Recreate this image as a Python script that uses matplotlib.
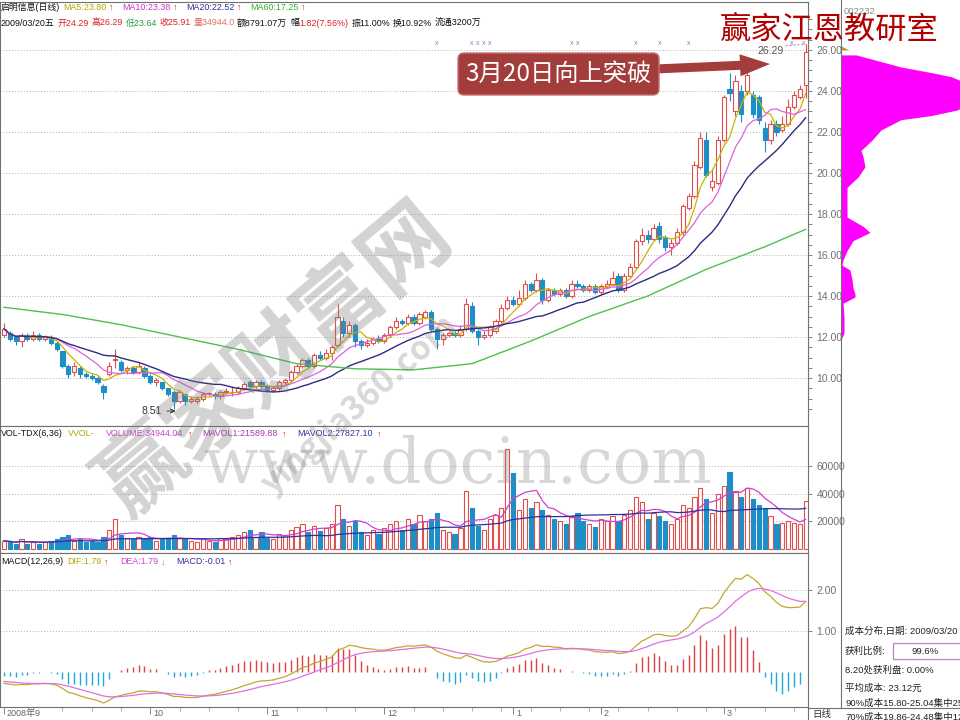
import numpy as np
import pandas as pd
import matplotlib
matplotlib.use("Agg")
import matplotlib.pyplot as plt
from matplotlib import font_manager
from matplotlib.patches import Rectangle, FancyBboxPatch, FancyArrow
from matplotlib.transforms import blended_transform_factory

plt.rcParams['font.family'] = ['Noto Sans CJK SC', 'DejaVu Sans']
installed = {f.name for f in font_manager.fontManager.ttflist}
NARROW = 'Liberation Sans Narrow' if 'Liberation Sans Narrow' in installed else 'Liberation Sans'
SMALL_FAM = [NARROW, 'Noto Sans CJK SC', 'DejaVu Sans']

# ---- daily bars, 2008/09 .. 2009/03/20 ----
opens = [
    12.1, 12.2, 12.0, 11.8, 12.1, 11.9, 12.1, 11.9, 12.0, 11.7,
    11.3, 10.6, 10.3, 10.5, 10.2, 10.1, 10.0, 9.6, 10.2, 10.9,
    10.8, 10.4, 10.5, 10.3, 10.5, 10.1, 9.8, 9.8, 9.5, 9.3,
    8.9, 9.2, 8.9, 8.9, 9.0, 9.2, 9.2, 9.1, 9.3, 9.3,
    9.3, 9.5, 9.8, 9.6, 9.8, 9.6, 9.4, 9.5, 9.8, 9.9,
    10.3, 10.6, 10.9, 10.6, 11.1, 11.0, 11.2, 11.6, 12.8, 12.2,
    12.6, 11.8, 11.6, 11.7, 11.9, 11.8, 12.1, 12.5, 12.8, 12.7,
    13.0, 12.7, 13.0, 13.2, 12.4, 11.9, 12.1, 12.2, 12.1, 12.4,
    13.5, 12.3, 12.0, 12.1, 12.3, 12.8, 13.4, 13.8, 13.6, 13.9,
    14.6, 14.3, 14.8, 13.8, 14.3, 14.1, 14.3, 14.0, 14.6, 14.5,
    14.3, 14.5, 14.2, 14.5, 14.6, 15.0, 14.3, 15.0, 15.4, 16.7,
    17.0, 16.8, 17.4, 16.9, 16.4, 16.6, 17.1, 18.3, 18.9, 20.3,
    21.6, 19.3, 19.5, 21.6, 24.1, 23.0, 24.0, 24.0, 23.8, 23.7,
    22.2, 21.6, 22.4, 22.1, 22.4, 23.2, 23.7, 24.29]
closes = [
    12.4, 11.9, 11.8, 12.1, 11.9, 12.1, 11.9, 12.0, 11.7, 11.4,
    10.6, 10.2, 10.6, 10.2, 10.1, 10.0, 9.8, 9.3, 10.6, 10.95,
    10.4, 10.5, 10.3, 10.6, 10.1, 9.8, 9.9, 9.5, 9.2, 8.9,
    9.3, 8.9, 9.0, 9.0, 9.2, 9.25, 9.1, 9.3, 9.35, 9.32,
    9.5, 9.7, 9.6, 9.8, 9.6, 9.4, 9.5, 9.8, 9.9, 10.3,
    10.6, 10.9, 10.6, 11.1, 11.0, 11.2, 11.5, 13.0, 12.2, 12.6,
    11.8, 11.6, 11.7, 11.9, 11.8, 12.1, 12.5, 12.8, 12.7, 13.0,
    12.7, 13.1, 13.2, 12.4, 11.9, 12.1, 12.2, 12.1, 12.4, 13.6,
    12.3, 12.0, 12.1, 12.5, 12.8, 13.4, 13.8, 13.6, 13.9, 14.6,
    14.3, 14.8, 13.8, 14.3, 14.1, 14.3, 14.0, 14.6, 14.5, 14.3,
    14.5, 14.2, 14.5, 14.6, 14.9, 14.3, 15.0, 15.4, 16.7, 17.0,
    16.8, 17.3, 16.8, 16.4, 16.6, 17.1, 18.4, 18.9, 20.4, 21.7,
    19.9, 19.6, 21.6, 23.7, 23.9, 24.5, 22.9, 24.8, 22.9, 22.6,
    21.6, 22.4, 22.0, 22.4, 23.2, 23.8, 24.09, 25.91]
highs = [
    12.7, 12.3, 12.0, 12.2, 12.2, 12.3, 12.2, 12.1, 12.1, 11.8,
    11.3, 10.7, 10.8, 10.6, 10.3, 10.2, 10.1, 9.7, 10.8, 11.4,
    10.9, 10.6, 10.6, 10.8, 10.6, 10.2, 10.0, 9.8, 9.5, 9.4,
    9.4, 9.2, 9.1, 9.1, 9.3, 9.3, 9.3, 9.4, 9.5, 9.6,
    9.6, 9.8, 9.9, 9.9, 9.9, 9.7, 9.6, 9.9, 10.0, 10.4,
    10.7, 11.0, 11.0, 11.2, 11.3, 11.4, 11.6, 13.6, 13.0, 12.8,
    12.7, 11.9, 11.9, 12.0, 12.1, 12.2, 12.6, 13.0, 12.9, 13.1,
    13.1, 13.2, 13.3, 13.3, 12.5, 12.2, 12.3, 12.3, 12.6, 13.9,
    13.7, 12.4, 12.3, 12.6, 12.9, 13.6, 14.0, 14.0, 14.3, 14.8,
    14.7, 15.1, 14.9, 14.4, 14.4, 14.4, 14.4, 14.8, 14.8, 14.6,
    14.6, 14.6, 14.6, 14.8, 15.2, 15.1, 15.1, 15.6, 16.8, 17.3,
    17.2, 17.5, 17.6, 17.0, 16.8, 17.3, 18.5, 19.0, 20.6, 22.0,
    22.0, 20.2, 21.8, 23.8, 24.9, 24.8, 24.3, 25.0, 24.0, 23.8,
    22.5, 22.6, 22.6, 22.8, 23.6, 24.0, 24.3, 26.29]
lows = [
    12.0, 11.8, 11.6, 11.5, 11.8, 11.8, 11.8, 11.8, 11.6, 11.3,
    10.5, 10.0, 10.1, 10.0, 10.0, 9.9, 9.7, 9.0, 10.1, 10.5,
    10.3, 10.2, 10.2, 10.2, 10.0, 9.7, 9.6, 9.4, 9.1, 8.51,
    8.8, 8.7, 8.8, 8.8, 8.9, 9.1, 9.0, 9.0, 9.2, 9.1,
    9.2, 9.4, 9.5, 9.5, 9.5, 9.3, 9.3, 9.4, 9.7, 9.8,
    10.2, 10.5, 10.5, 10.5, 10.9, 10.9, 10.9, 11.5, 12.0, 12.0,
    11.5, 11.4, 11.5, 11.6, 11.7, 11.7, 12.0, 12.4, 12.6, 12.6,
    12.6, 12.6, 12.9, 12.3, 11.4, 11.6, 12.0, 12.0, 12.0, 12.3,
    12.2, 11.6, 11.9, 12.0, 12.2, 12.7, 13.3, 13.5, 13.5, 13.8,
    14.2, 14.2, 13.6, 13.7, 14.0, 14.0, 13.9, 13.9, 14.4, 14.2,
    14.2, 14.1, 14.1, 14.4, 14.5, 14.2, 14.2, 14.9, 15.3, 16.5,
    16.6, 16.7, 16.6, 16.2, 16.0, 16.5, 17.0, 18.2, 18.8, 20.2,
    19.8, 19.1, 19.4, 21.5, 23.5, 22.8, 22.5, 23.8, 22.7, 22.4,
    21.0, 21.4, 21.8, 22.0, 22.3, 23.1, 23.6, 23.64]
# volume in thousands of lots
volumes = [
    6, 5, 4, 7, 4, 5, 4, 5, 6, 7,
    9, 10, 6, 7, 5, 6, 5, 9, 14, 22,
    10, 8, 7, 9, 8, 9, 6, 7, 8, 10,
    8, 7, 6, 5, 7, 6, 5, 8, 7, 9,
    10, 12, 14, 9, 12, 8, 7, 11, 10, 14,
    16, 18, 12, 17, 13, 15, 18, 32, 22, 17,
    20, 12, 10, 14, 11, 15, 18, 20, 14, 22,
    18, 25, 20, 22, 26, 14, 12, 11, 15, 42,
    30, 17, 14, 22, 25, 30, 73, 55, 28, 36,
    30, 34, 28, 25, 22, 20, 18, 24, 26, 20,
    18, 16, 22, 20, 24, 20, 25, 28, 38, 34,
    22, 26, 24, 20, 18, 22, 32, 30, 38, 44,
    36, 26, 40, 46, 56, 42, 38, 44, 36, 32,
    30, 24, 18, 19, 20, 19, 18, 34.944]

# MA60 (history before the window is not shown)
ma60_idx = [0, 10, 20, 30, 40, 50, 60, 70, 80, 90, 100, 110, 120, 130, 137]
ma60_vals = [13.45, 13.1, 12.6, 12.0, 11.4, 10.7, 10.45, 10.4, 10.7, 11.8,
             13.0, 14.0, 15.3, 16.4, 17.25]
dif_start = -0.30
dea_start = -0.22

# cost distribution (chips)
chip_prices = [26.2, 26.0, 25.76, 25.5, 25.17, 24.9, 24.7, 24.4, 24.05, 23.3,
               23.07, 22.8, 22.6, 22.1, 21.6, 21.1, 20.8, 20.3, 19.8, 19.3,
               18.7, 17.85, 17.4, 17.1, 16.7, 16.2, 15.75, 15.5, 15.27, 14.8,
               14.4, 14.1, 13.95, 13.65, 12.97, 12.2, 11.85]
chip_widths = [0, 8, 15, 35, 60, 90, 110, 125, 125, 125,
               116, 90, 60, 40, 31, 20, 22, 24, 17, 6,
               6, 6, 22, 29, 12, 6, 2, 1, 9, 11,
               12, 14, 14, 2, 3, 3, 0]

month_idx = [0, 25, 45, 65, 87, 102, 123]
month_labels = ['2008年9', '10', '11', '12', '1', '2', '3']
price_ticks = [10, 12, 14, 16, 18, 20, 22, 24, 26]
vol_ticks = [20000, 40000, 60000]
macd_ticks = [1.0, 2.0]
mark_idx = [74, 80, 81, 82, 83, 97, 98, 108, 112, 117, 134.6, 136.6]

UP = '#e0504a'
DN = '#1e8fc6'
n = len(closes)
x = np.arange(n)
cl = pd.Series(closes)
ma5 = cl.rolling(5, min_periods=1).mean()
ma10 = cl.rolling(10, min_periods=1).mean()
ma20 = cl.rolling(20, min_periods=1).mean()
vol = pd.Series(volumes) * 1000
mavol1 = vol.rolling(6, min_periods=1).mean()
mavol2 = vol.rolling(36, min_periods=1).mean()

# MACD seeded with the values visible at the left edge
ema12 = closes[0]
ema26 = closes[0] - dif_start
dea = dea_start
difs, deas = [], []
for c in closes:
    ema12 = ema12 + 2 / 13 * (c - ema12)
    ema26 = ema26 + 2 / 27 * (c - ema26)
    d = ema12 - ema26
    dea = dea + 2 / 10 * (d - dea)
    difs.append(d)
    deas.append(dea)
difs = np.array(difs)
deas = np.array(deas)
hist = 2 * (difs - deas)

W, H = 960, 720
fig = plt.figure(figsize=(9.6, 7.2), dpi=100)


def rect(l, t, r, b):
    return [l / W, 1 - b / H, (r - l) / W, (b - t) / H]


ax_p = fig.add_axes(rect(0, 2, 808, 426))
ax_v = fig.add_axes(rect(0, 426, 808, 553))
ax_m = fig.add_axes(rect(0, 553, 808, 707))
ax_c = fig.add_axes(rect(841, 2, 960, 426))
ax_o = fig.add_axes([0, 0, 1, 1], zorder=20)
ax_o.set_xlim(0, W)
ax_o.set_ylim(H, 0)
ax_o.axis('off')
ax_o.patch.set_alpha(0)


def style(ax):
    for s in ax.spines.values():
        s.set_color('#707070')
        s.set_linewidth(0.8)
    ax.yaxis.tick_right()
    ax.tick_params(axis='y', which='both', direction='out', length=3, width=0.6,
                   colors='#707070', labelsize=7.5, labelcolor='#707070', pad=3)
    ax.tick_params(axis='x', which='both', bottom=False, labelbottom=False)
    for lab in ax.get_yticklabels():
        lab.set_family(SMALL_FAM)
    ax.grid(axis='y', linestyle=(0, (1, 2)), color='#b0b0b0', lw=0.7)
    ax.set_xlim(-0.68, 137.4)


# ---- price panel ----
ax_p.set_ylim(7.66, 28.34)
ax_p.set_yticks(price_ticks)
ax_p.set_yticklabels(['%.2f' % t for t in price_ticks])
ax_p.set_yticks(np.arange(8.5, 28, 0.5), minor=True)
style(ax_p)
for i in range(n):
    o, c, h, l = opens[i], closes[i], highs[i], lows[i]
    col = UP if c >= o else DN
    ax_p.vlines(i, l, h, color=col, lw=0.8, zorder=2)
    ax_p.add_patch(Rectangle((i - 0.36, min(o, c)), 0.72, max(abs(c - o), 0.04),
                             facecolor='white' if c >= o else col, edgecolor=col,
                             lw=0.8, zorder=3))
ax_p.plot(x, ma5, color='#c8b400', lw=0.9, zorder=4)
ax_p.plot(x, ma10, color='#e060e0', lw=0.9, zorder=4)
ax_p.plot(x, ma20, color='#2c2c80', lw=1.0, zorder=4)
ax_p.plot(ma60_idx, ma60_vals, color='#50c050', lw=1.0, zorder=4)
ax_p.annotate('8.51', xy=(29.8, 8.39), xytext=(25.2, 8.39), fontsize=7.5, color='#333333',
              ha='center', va='center', family=SMALL_FAM,
              arrowprops=dict(arrowstyle='->', color='#333333', lw=0.8))
ax_p.text(131.0, 25.95, '26.29', fontsize=7.5, color='#555555', ha='center', va='center',
          family=SMALL_FAM)
ax_p.plot([133.6, 137], [26.2, 26.29], color='#888888', lw=0.7, ls=(0, (2, 2)))
for i in mark_idx:
    ax_p.text(i, 26.36, 'x', fontsize=5, color='#b070c0', ha='center', va='center')

# ---- volume panel ----
ax_v.set_ylim(-2909, 89454)
ax_v.set_yticks(vol_ticks)
ax_v.set_yticklabels([str(t) for t in vol_ticks])
style(ax_v)
for i in range(n):
    up = closes[i] >= opens[i]
    col = UP if up else DN
    ax_v.add_patch(Rectangle((i - 0.36, 0), 0.72, vol[i],
                             facecolor='white' if up else col, edgecolor=col,
                             lw=0.8, zorder=3))
ax_v.plot(x, mavol1, color='#d040d0', lw=0.9, zorder=4)
ax_v.plot(x, mavol2, color='#3030a0', lw=0.9, zorder=4)

# ---- MACD panel ----
ax_m.set_ylim(-0.854, 2.90)
ax_m.set_yticks(macd_ticks)
ax_m.set_yticklabels(['%.2f' % t for t in macd_ticks])
style(ax_m)
ax_m.vlines(x, 0, hist, colors=np.where(hist >= 0, '#e04040', '#20a8d8'), lw=1.0)
ax_m.plot(x, difs, color='#c0a830', lw=0.9)
ax_m.plot(x, deas, color='#e070e0', lw=0.9)
ax_m.set_xticks(month_idx)
ax_m.set_xticks(np.arange(5, 137, 5), minor=True)
ax_m.tick_params(axis='x', which='major', bottom=True, direction='out', length=5,
                 width=0.6, colors='#707070')
ax_m.tick_params(axis='x', which='minor', bottom=True, direction='out', length=3,
                 width=0.5, colors='#909090')
tr = blended_transform_factory(ax_m.transData, ax_m.transAxes)
for i, lab in zip(month_idx, month_labels):
    ax_m.text(i + 0.5, -0.045, lab, transform=tr, fontsize=6.5, color='#666666',
              ha='left', va='center', family=SMALL_FAM)

# ---- chip distribution ----
ax_c.set_ylim(7.66, 28.34)
ax_c.set_xlim(0, 119)
ax_c.axis('off')
cp = np.array(chip_prices)
cw = np.array(chip_widths)
ax_c.fill_betweenx(cp, 0, cw, where=cp <= 25.95, color='#ff00ff', lw=0)
ax_c.fill_betweenx(cp, 0, cw, where=cp >= 25.9, color='#a8a030', lw=0)

# ---- overlay: frames, headers, annotations ----
ax_o.plot([841, 841], [0, 708], color='#707070', lw=0.8)
ax_o.plot([808, 960], [708, 708], color='#707070', lw=0.8)
ax_o.plot([808, 808], [707, 720], color='#707070', lw=0.8)

RED = '#e02020'
BLK = '#111111'


def chain(py, parts, size=6.4, x0=1):
    prev = None
    for s, col, gap in parts:
        if prev is None:
            prev = ax_o.text(x0, py, s, fontsize=size, color=col, ha='left', va='center',
                             family=SMALL_FAM)
        else:
            prev = ax_o.annotate(s, xy=(1, 0.5), xycoords=prev, xytext=(gap, 0),
                                 textcoords='offset points', fontsize=size, color=col,
                                 ha='left', va='center', family=SMALL_FAM)


chain(7, [('启明信息(日线)', BLK, 0), ('MA5:23.80', '#b0a800', 2), ('↑', RED, 2),
          ('MA10:23.38', '#d030d0', 6), ('↑', RED, 2),
          ('MA20:22.52', '#303090', 6), ('↑', RED, 2),
          ('MA60:17.25', '#30b030', 6), ('↑', RED, 2)])
chain(23, [('2009/03/20五', BLK, 0), ('开24.29', RED, 2), ('高26.29', RED, 2),
           ('低23.64', '#20a040', 2), ('收25.91', RED, 2), ('量34944.0', '#e07060', 2),
           ('额8791.07万', BLK, 1.5), ('幅', BLK, 2), ('1.82(7.56%)', RED, 0.5),
           ('振11.00%', BLK, 2), ('换10.92%', BLK, 2), ('流通3200万', BLK, 2)])
chain(434, [('VOL-TDX(6,36)', BLK, 0), ('VVOL-', '#b0a800', 4),
            ('VOLUME:34944.04', '#d040d0', 8), ('↑', RED, 3),
            ('MAVOL1:21589.88', '#b030b0', 7), ('↑', RED, 3),
            ('MAVOL2:27827.10', '#3030a0', 8), ('↑', RED, 3)])
chain(562, [('MACD(12,26,9)', BLK, 0), ('DIF:1.79', '#b0a800', 3), ('↑', RED, 2),
            ('DEA:1.79', '#d040d0', 8), ('↓', '#20a8d8', 2),
            ('MACD:-0.01', '#3030a0', 8), ('↑', RED, 2)])


def put(px, py, s, color='#222222', size=6.8):
    ax_o.text(px, py, s, fontsize=size, color=color, ha='left', va='center',
              family=SMALL_FAM)


put(812, 715, '日线', '#333333')
put(844, 12, '002232', '#888888')
put(845, 631, '成本分布,日期: 2009/03/20')
put(845, 651, '获利比例:')
ax_o.add_patch(Rectangle((893, 643), 75, 16, facecolor='white', edgecolor='#c080c0', lw=0.9))
ax_o.text(925, 651, '99.6%', fontsize=6.8, color='#222222', ha='center', va='center',
          family=SMALL_FAM)
put(845, 670, '8.20处获利盘: 0.00%')
put(845, 688, '平均成本: 23.12元')
put(845, 703, '90%成本15.80-25.04集中25')
put(845, 717, '70%成本19.86-24.48集中12')

# title
ax_o.text(829, 31, '赢家江恩教研室', fontsize=22.5, color='#b00000', ha='center', va='center')

# breakout annotation
ax_o.add_patch(FancyArrow(655, 69, 115, -5, width=9, head_width=22, head_length=30,
                          length_includes_head=True, color='#a33d3b', lw=0))
ax_o.add_patch(FancyBboxPatch((458, 53), 201, 42, boxstyle='round,pad=0,rounding_size=6',
                              facecolor='#a33d3b', edgecolor='#c87070', lw=1))
ax_o.text(558, 74, '3月20日向上突破', fontsize=17.5, color='white', ha='center', va='center')

# watermarks
ax_o.text(275, 360, '赢家财富网', fontsize=62, color='#808080', alpha=0.35,
          rotation=40, ha='center', va='center', fontweight='bold')
ax_o.text(360, 405, 'yingjia360.com', fontsize=24, color='#808080', alpha=0.3,
          rotation=42, ha='center', va='center', fontweight='bold')
ax_o.text(458, 465, 'www.docin.com', fontsize=46, color='#808080', alpha=0.3,
          ha='center', va='center', family='DejaVu Serif')

fig.savefig('out.png', dpi=100)
